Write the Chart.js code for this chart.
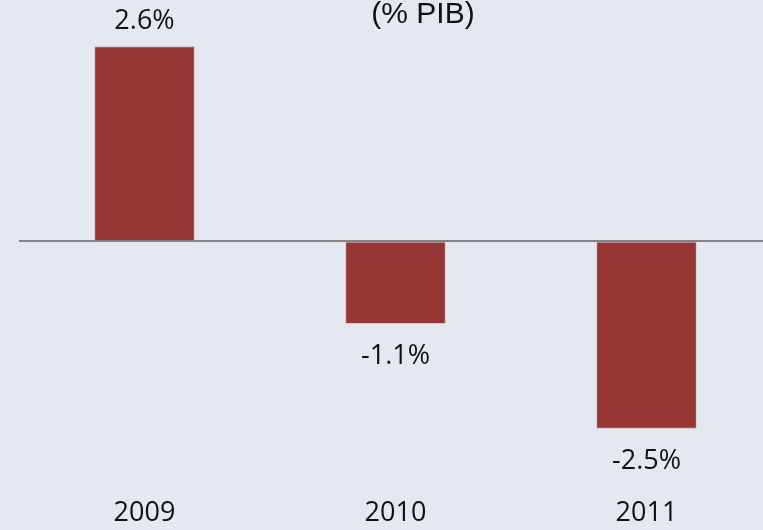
<!DOCTYPE html>
<html>
<head>
<meta charset="utf-8">
<script src="https://cdn.jsdelivr.net/npm/chart.js@4/dist/chart.umd.min.js"></script>
<style>
  html, body { margin: 0; padding: 0; background: #e4e9f1; overflow: hidden; }
  #wrap { position: absolute; left: 0; top: 0; width: 800px; height: 540px; }
</style>
</head>
<body>
<div id="wrap"><canvas id="c"></canvas></div>
<script>
  // ---------- Data ----------
  const YEARS = ["2009", "2010", "2011"];
  const BALANCE = [2.6, -1.1, -2.5];
  const TITLE = "(% PIB)";

  const BAR = "#963735";
  const fmt = (v) => v.toFixed(1) + "%";

  // value labels above / below each bar + the title
  const labelsPlugin = {
    id: "vlabels",
    afterDatasetsDraw(chart) {
      const ctx = chart.ctx;
      const meta = chart.getDatasetMeta(0);
      ctx.save();
      ctx.font = "27px 'Open Sans'";
      ctx.fillStyle = "#111";
      ctx.textAlign = "center";
      ctx.textBaseline = "middle";
      meta.data.forEach((bar, i) => {
        const v = BALANCE[i];
        const y = v >= 0 ? bar.y - 25 : bar.y + 33;
        ctx.fillText(fmt(v), bar.x, y);
      });
      ctx.font = "30px 'Liberation Sans'";
      ctx.textBaseline = "alphabetic";
      ctx.fillText(TITLE, 423, 23);
      ctx.restore();
    },
  };

  new Chart(document.getElementById("c"), {
    type: "bar",
    data: {
      labels: YEARS,
      datasets: [
        {
          data: BALANCE,
          backgroundColor: BAR,
          borderColor: "#b06a68",
          borderWidth: 0.6,
          barPercentage: 0.398,
          categoryPercentage: 1,
        },
      ],
    },
    options: {
      responsive: true,
      maintainAspectRatio: false,
      animation: false,
      layout: { padding: { left: 19, right: 28, top: 0, bottom: 3 } },
      plugins: { legend: { display: false }, tooltip: { enabled: false } },
      scales: {
        x: {
          grid: { display: false, drawTicks: false },
          border: { display: false },
          ticks: {
            padding: 10,
            color: "#111",
            font: { family: "'Open Sans'", size: 27, lineHeight: 1 },
          },
        },
        y: {
          min: -3.322,
          max: 3.222,
          display: true,
          border: { display: false },
          ticks: { display: false, stepSize: 0.1 },
          grid: {
            drawTicks: false,
            color: (c) => (c.tick && Math.abs(c.tick.value) < 1e-9 ? "#858585" : "rgba(0,0,0,0)"),
            lineWidth: (c) => (c.tick && Math.abs(c.tick.value) < 1e-9 ? 2 : 0),
          },
        },
      },
    },
    plugins: [labelsPlugin],
  });
</script>
</body>
</html>
